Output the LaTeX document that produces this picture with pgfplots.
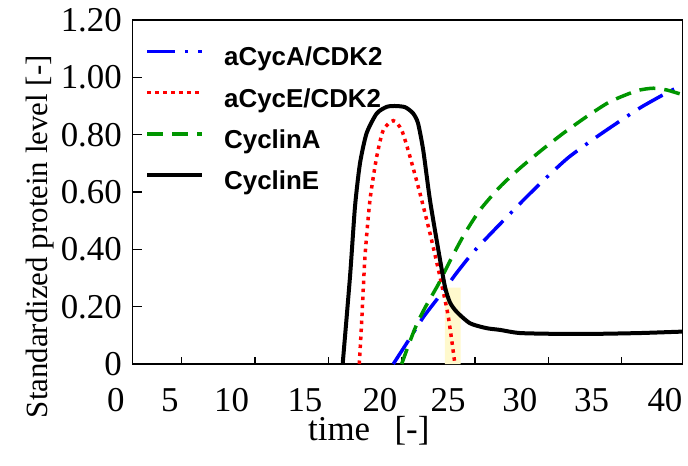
\documentclass[border=0pt]{standalone}
\usepackage{fontspec}
\setmainfont{Liberation Serif}
\newfontfamily\legfont{Liberation Sans}
\usepackage{pgfplots}
\pgfplotsset{compat=1.18}
\definecolor{cgreen}{RGB}{0,150,0}
\definecolor{cyellow}{RGB}{255,249,205}

\begin{document}
\begin{tikzpicture}
\useasboundingbox (-132.3bp,-102bp) rectangle (555.7bp,364bp);
\begin{axis}[
  scale only axis, width=550bp, height=344bp,
  xmin=1.64, xmax=39.13, ymin=0, ymax=1.2,
  axis line style={line width=1.5bp},
  tick style={line width=1.5bp, black},
  tick align=inside, tick pos=left,
  major tick length=10bp,
  xtick={4.20,8.41,13.41,18.52,23.17,28.06,32.95,37.95},
  xticklabels={5,10,15,20,25,30,35,40},
  xtick style={draw=none},
  extra x ticks={5,10,15,20,25,30,35},
  extra x tick labels={},
  extra x tick style={xtick style={draw=black, line width=1.5bp}, major tick length=7bp},
  ytick={0,0.2,0.4,0.6,0.8,1.0,1.2},
  yticklabels={0,0.20,0.40,0.60,0.80,1.00,1.20},
  tick label style={font=\fontsize{35}{38}\selectfont},
  yticklabel style={xshift=-7bp},
  xticklabel style={yshift=-21bp},
  xlabel={time\hspace{0.7em}[-]},
  ylabel={Standardized protein level [-]},
  label style={font=\fontsize{31}{36}\selectfont},
  xlabel style={at={(ticklabel cs:0.43)}, yshift=3bp, font=\fontsize{35}{38}\selectfont},
  ylabel style={at={(ticklabel cs:0.37)}},
  legend cell align=left,
  legend style={draw=none, fill=none, inner sep=0pt, at={(rel axis cs:0.0231,0.9216)}, anchor=north west,
    font=\legfont\bfseries\fontsize{26}{26}\selectfont, row sep=21bp, nodes={inner sep=0pt}},
  legend image code/.code={\draw[#1] (0bp,6bp) -- (55bp,6bp); \path (75bp,0bp);},
]
\coordinate (zerolab) at (axis cs:0.52,0);
\addplot[fill=cyellow, draw=none, forget plot] coordinates {(22.95,0)(22.95,0.266)(24.02,0.266)(24.02,0)} \closedcycle;

\addplot[blue, line width=3.5bp, dash pattern=on 28bp off 10bp on 3bp off 10bp, smooth, tension=0.4] coordinates {
(19.43,0)(20.5,0.085)(21.5,0.165)(22.85,0.255)(23.75,0.318)(24.88,0.39)(26.36,0.47)(28.4,0.577)
(29.88,0.651)(31.36,0.72)(33.06,0.784)(34.66,0.84)(36.36,0.897)(38.29,0.952)(39.13,0.972)};
\addlegendentry{aCycA/CDK2}

\addplot[red, line width=3.5bp, dash pattern=on 3.5bp off 4.5bp, smooth, tension=0.4] coordinates {
(17.11,0)(17.27,0.142)(17.5,0.374)(17.84,0.572)(18.3,0.723)(18.75,0.816)(19.43,0.849)(20.0,0.816)
(20.57,0.723)(21.25,0.595)(21.93,0.456)(22.61,0.305)(23.18,0.165)(23.63,0)};
\addlegendentry{aCycE/CDK2}

\addplot[cgreen, line width=3.5bp, dash pattern=on 16bp off 9bp, smooth, tension=0.4] coordinates {
(20.0,0)(20.5,0.07)(21.0,0.135)(21.6,0.197)(22.5,0.278)(23.4,0.37)(24.3,0.455)(25.35,0.538)
(26.7,0.618)(28.06,0.683)(29.54,0.746)(31.02,0.805)(32.61,0.863)(34.2,0.915)(36.02,0.953)
(37.15,0.962)(38.06,0.956)(38.6,0.948)(39.13,0.94)};
\addlegendentry{CyclinA}

\addplot[black, line width=4bp, smooth, tension=0.4] coordinates {
(15.98,0)(16.48,0.305)(16.82,0.549)(17.16,0.70)(17.61,0.805)(18.3,0.874)(18.98,0.897)(19.54,0.90)
(20.23,0.896)(20.77,0.875)(21.11,0.841)(21.47,0.746)(21.93,0.572)(22.5,0.398)(22.95,0.27)
(23.29,0.215)(23.75,0.182)(24.66,0.142)(25.79,0.125)(26.7,0.119)(28.06,0.108)(30.79,0.105)
(33.04,0.105)(36.25,0.108)(39.13,0.113)};
\addlegendentry{CyclinE}
\end{axis}
\node[anchor=north, yshift=-21bp, font=\fontsize{35}{38}\selectfont] at (zerolab) {0};
\end{tikzpicture}
\end{document}
